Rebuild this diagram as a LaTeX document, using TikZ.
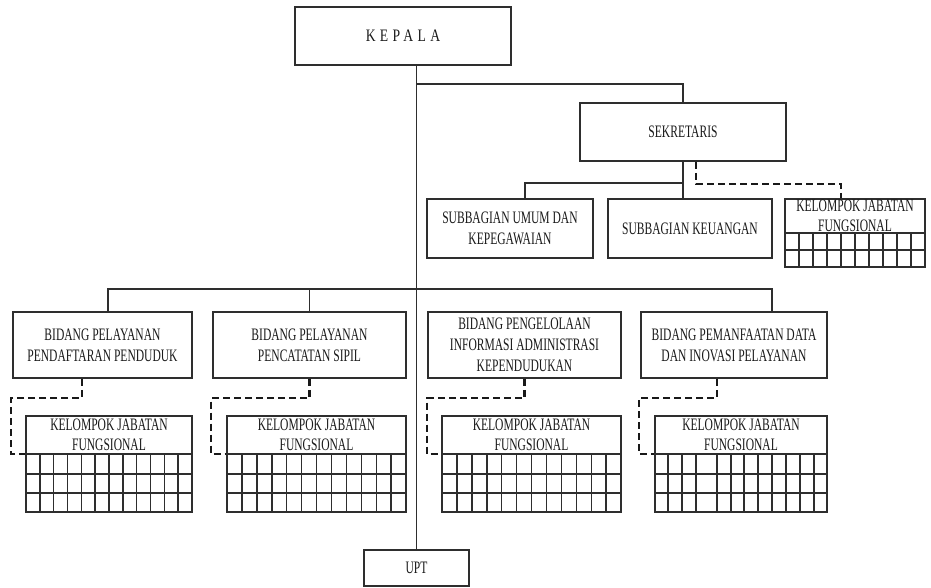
\documentclass[tikz,border=0pt]{standalone}
\usepackage{fontspec}
\setmainfont{Liberation Serif}[FakeStretch=0.66]
\newfontfamily\kepfont{Liberation Serif}[FakeStretch=0.78,LetterSpace=25]
\usetikzlibrary{calc}
\definecolor{lc}{HTML}{2E2E2E}
\definecolor{tc}{HTML}{1A1A1A}
\tikzset{
  ln/.style={draw=lc, line width=1.5pt},
  box/.style={draw=lc, line width=1.6pt, fill=white, inner sep=0pt, align=center,
              font=\fontsize{17.5}{21}\selectfont, text=tc},
  kt/.style={inner sep=0pt, align=center, font=\fontsize{17.5}{20}\selectfont, text=tc},
  dsh/.style={draw=black!90, line width=2.5pt, dash pattern=on 7pt off 4pt},
  grd/.style={draw=lc, line width=1.4pt}
}
% #1 x1, #2 x2, #3 y grid top, #4 row lines, #5 y bottom, #6 column lines
\newcommand\kgrid[6]{%
  \draw[grd] (#1,#3) -- (#2,#3);
  \foreach \yy in {#4} {\draw[grd] (#1,\yy) -- (#2,\yy);}
  \foreach \xx in {#6} {\draw[grd] (\xx,#3) -- (\xx,#5);}
}
\begin{document}
\begin{tikzpicture}[x=1pt,y=-1pt]
\useasboundingbox (0,0) rectangle (931,588);

% top level
\node[box, minimum width=216pt, minimum height=58pt] (kep) at (403,36) {\kepfont KEPALA};
\node[box, minimum width=206pt, minimum height=58pt] (sek) at (683,132) {SEKRETARIS};
\node[box, minimum width=166pt, minimum height=59pt] (sum) at (510,228.5) {SUBBAGIAN UMUM DAN\\KEPEGAWAIAN};
\node[box, minimum width=164pt, minimum height=59pt] (keu) at (690,228.5) {SUBBAGIAN KEUANGAN};
\node[box, minimum width=140pt, minimum height=68pt] (kr) at (855,233) {};
\node[kt] (krt) at (855,216) {KELOMPOK JABATAN\\FUNGSIONAL};
\kgrid{785}{925}{233}{250}{267}{799,813,827,841,855,869,883,897,911}

% bidang
\node[box, minimum width=179pt, minimum height=66pt] (b1) at (102.5,345) {BIDANG PELAYANAN\\PENDAFTARAN PENDUDUK};
\node[box, minimum width=193pt, minimum height=66pt] (b2) at (309.5,345) {BIDANG PELAYANAN\\PENCATATAN SIPIL};
\node[box, minimum width=193pt, minimum height=66pt] (b3) at (524.5,345) {BIDANG PENGELOLAAN\\INFORMASI ADMINISTRASI\\KEPENDUDUKAN};
\node[box, minimum width=186pt, minimum height=66pt] (b4) at (734,345) {BIDANG PEMANFAATAN DATA\\DAN INOVASI PELAYANAN};

% kelompok jabatan fungsional
\node[box, minimum width=166pt, minimum height=96pt] (k1) at (109,464) {};
\node[kt] (k1t) at (109,435) {KELOMPOK JABATAN\\FUNGSIONAL};
\kgrid{26}{192}{454}{474,493}{512}{39.83,53.67,67.5,81.33,95.17,109,122.83,136.67,150.5,164.33,178.17}
\node[box, minimum width=179pt, minimum height=96pt] (k2) at (316.5,464) {};
\node[kt] (k2t) at (316.5,435) {KELOMPOK JABATAN\\FUNGSIONAL};
\kgrid{227}{406}{454}{474,493}{512}{241.9,256.8,271.8,286.7,301.6,316.5,331.4,346.3,361.3,376.2,391.1}
\node[box, minimum width=179pt, minimum height=96pt] (k3) at (531.5,464) {};
\node[kt] (k3t) at (531.5,435) {KELOMPOK JABATAN\\FUNGSIONAL};
\kgrid{442}{621}{454}{474,493}{512}{456.9,471.8,486.8,501.7,516.6,531.5,546.4,561.3,576.3,591.2,606.1}
\node[box, minimum width=172pt, minimum height=96pt] (k4) at (741,464) {};
\node[kt] (k4t) at (741,435) {KELOMPOK JABATAN\\FUNGSIONAL};
\kgrid{655}{827}{454}{474,493}{512}{668,682,696,717,731,744,758,772,786,800,814}

\node[box, minimum width=105pt, minimum height=36pt] (upt) at (416.5,568) {UPT};

% solid connectors
\draw[ln] (kep.south -| upt.north) -- (upt.north);
\coordinate (s0) at (upt.north |- 0,84);
\draw[ln] (s0) -| (sek.north);
\draw[ln] (sek.south) -- (keu.north -| sek.south);
\coordinate (sj) at (sek.south |- 0,183);
\draw[ln] (sj) -| ($(sum.north)+(15,0)$);
\draw[ln] ($(b1.north)+(5.5,0)$) -- ++(0,-22) -| ($(b4.north)+(38,0)$);
\draw[ln] (b2.north) -- ++(0,-22);

% dashed connectors
\draw[dsh] ($(sek.south)+(13,0)$) -- ++(0,22) -| ($(kr.north)+(-14,0)$);
\coordinate (k1g) at (k1.west |- 0,454);
\coordinate (k2g) at (k2.west |- 0,454);
\coordinate (k3g) at (k3.west |- 0,454);
\coordinate (k4g) at (k4.west |- 0,454);
\draw[dsh] ($(b1.south)+(-20.5,0)$) -- ++(0,19) -| ($(k1g)+(-14,0)$) -- (k1g);
\draw[dsh] (b2.south) -- ++(0,19) -| ($(k2g)+(-15,0)$) -- (k2g);
\draw[dsh] (b3.south) -- ++(0,19) -| ($(k3g)+(-14,0)$) -- (k3g);
\draw[dsh] ($(b4.south)+(-17,0)$) -- ++(0,19) -| ($(k4g)+(-15,0)$) -- (k4g);
\end{tikzpicture}
\end{document}
